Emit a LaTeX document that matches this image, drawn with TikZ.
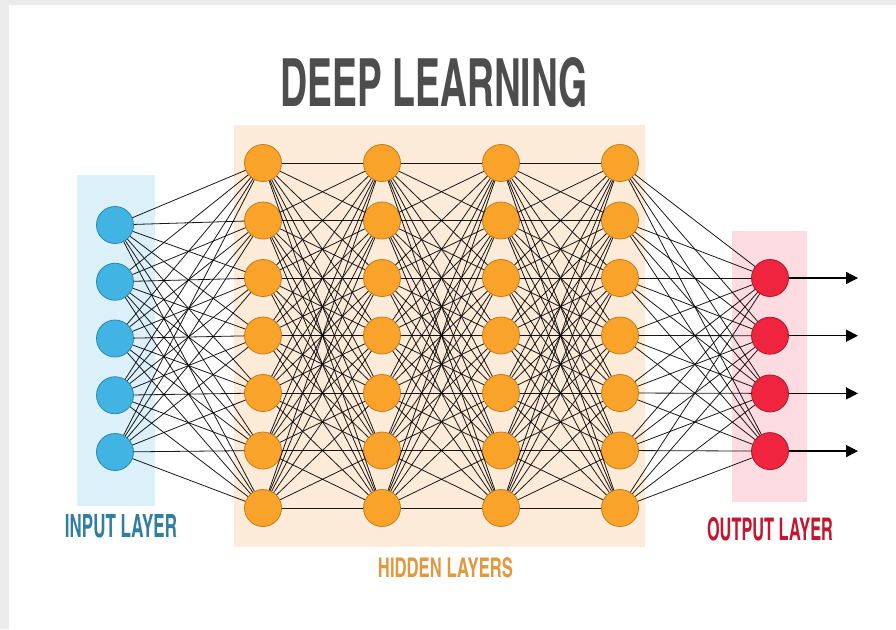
\documentclass[tikz,border=0pt]{standalone}
\usepackage{fontspec}
\usepackage{xcolor}
\usepackage{graphicx}
\usetikzlibrary{arrows.meta}
\pgfdeclarelayer{bg}
\pgfsetlayers{bg,main}
\newfontfamily\condfont{TeX Gyre Heros Cn}
\definecolor{pagegray}{HTML}{EBEBEB}
\definecolor{titlegray}{HTML}{4D4D4D}
\definecolor{inblue}{HTML}{42B4E3}
\definecolor{inblueline}{HTML}{2C86AC}
\definecolor{inboxc}{HTML}{DCF0FA}
\definecolor{inlabc}{HTML}{317FA0}
\definecolor{hidorange}{HTML}{F9A32B}
\definecolor{hidline}{HTML}{C57C18}
\definecolor{hidboxc}{HTML}{FDEBD9}
\definecolor{hidlabc}{HTML}{E0993F}
\definecolor{outred}{HTML}{F0243F}
\definecolor{outline}{HTML}{A8182B}
\definecolor{outboxc}{HTML}{FCDCE1}
\definecolor{outlabc}{HTML}{C4162F}
\newcommand{\fitlab}[3]{\resizebox{#1}{#2}{\condfont\bfseries #3}}

\begin{document}
\begin{tikzpicture}[x=1pt, y=-1pt,
		neuron/.style={circle, inner sep=0pt, minimum size=37pt, line width=0.8pt},
		inp/.style={neuron, draw=inblueline, fill=inblue},
		hid/.style={neuron, draw=hidline, fill=hidorange},
		outp/.style={neuron, draw=outline, fill=outred},
		link/.style={black, line width=0.8pt, opacity=0.9},
		outarrow/.style={black, line width=1.3pt, -{Triangle[length=12pt, width=12pt]}},
		lab/.style={inner sep=0pt}]
			\useasboundingbox (0,0) rectangle (896,629);

			\begin{pgfonlayer}{bg}
				\fill[pagegray] (0,0) rectangle (896,629);
				\fill[white] (9,5) rectangle (896,629);
				\fill[inboxc] (77,175) rectangle (155,506);
				\fill[hidboxc] (234,125) rectangle (645,547);
				\fill[outboxc] (732,231) rectangle (807,502);
			\end{pgfonlayer}

			\node[lab, text=titlegray] (title) at (434,83) {\fitlab{307pt}{49pt}{DEEP LEARNING}};

			\foreach \r [evaluate=\r as \y using {225+56.75*(\r-1)}] in {1,...,5}
			{
				\node[inp] (i\r) at (115,\y) {};
			}
			\foreach \l/\x in {1/263, 2/382, 3/501, 4/620}
			{
				\foreach \r [evaluate=\r as \y using {163+57.5*(\r-1)}] in {1,...,7}
				{
					\node[hid] (h\l\r) at (\x,\y) {};
				}
			}
			\foreach \r [evaluate=\r as \y using {278+57.7*(\r-1)}] in {1,...,4}
			{
				\node[outp] (o\r) at (770,\y) {};
				\coordinate (a\r) at (858,\y);
			}

			\foreach \a in {1,...,5}
				\foreach \b in {1,...,7}
					\draw[link] (i\a) -- (h1\b);
			\foreach \l [evaluate=\l as \m using int(\l+1)] in {1,2,3}
				\foreach \a in {1,...,7}
					\foreach \b in {1,...,7}
						\draw[link] (h\l\a) -- (h\m\b);
			\foreach \a in {1,...,7}
				\foreach \b in {1,...,4}
					\draw[link] (h4\a) -- (o\b);
			\foreach \r in {1,...,4}
				\draw[outarrow] (o\r) -- (a\r);

			\node[lab, text=inlabc] (inlab) at (121,526.5) {\fitlab{112pt}{23pt}{INPUT LAYER}};
			\node[lab, text=hidlabc] (hidlab) at (445.5,568) {\fitlab{135pt}{20pt}{HIDDEN LAYERS}};
			\node[lab, text=outlabc] (outlab) at (770,529.5) {\fitlab{126pt}{23pt}{OUTPUT LAYER}};
		\end{tikzpicture}
\end{document}
